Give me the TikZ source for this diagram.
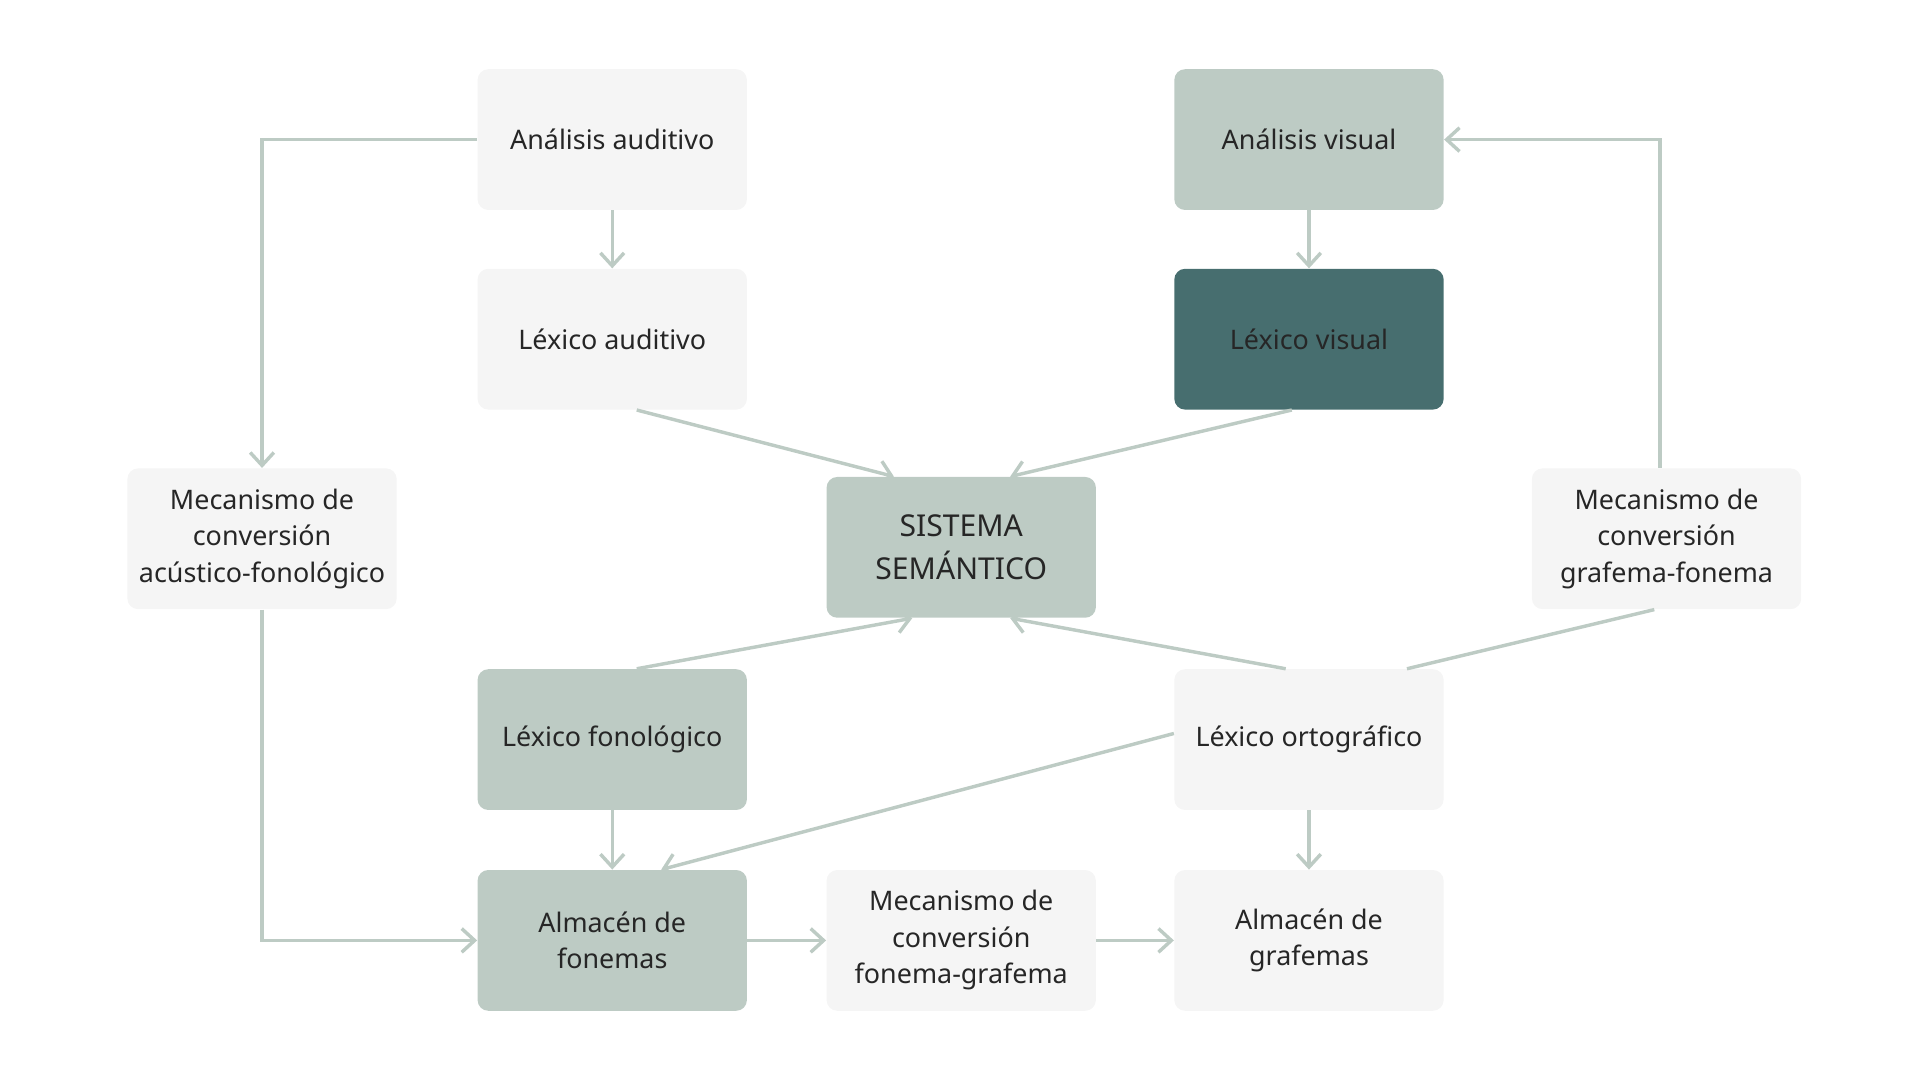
\documentclass[tikz,border=0pt]{standalone}
\usepackage{fontspec}
\setmainfont{Noto Sans}
\usetikzlibrary{arrows.meta, positioning}
\definecolor{sage}{HTML}{BDCBC4}
\definecolor{pale}{HTML}{F5F5F5}
\definecolor{teal}{HTML}{476E6F}
\definecolor{ink}{HTML}{262626}
\begin{document}
\begin{tikzpicture}[x=0.02cm, y=-0.02cm,
    box/.style={rectangle, rounded corners=5pt, minimum width=4.4cm, minimum height=2.3cm,
      align=center, text=ink, font=\fontsize{12.5}{17}\selectfont, inner sep=2pt},
    light/.style={box, fill=pale},
    mid/.style={box, fill=sage},
    dark/.style={box, fill=teal},
    link/.style={draw=sage, line width=1.6pt, -{Straight Barb[length=6pt,width=11pt]}}]
    \useasboundingbox (0,0) rectangle (1568,882);

    \node[light] (aa) at (500,114) {Análisis auditivo};
    \node[light] (la) at (500,277) {Léxico auditivo};
    \node[mid]   (av) at (1069,114) {Análisis visual};
    \node[dark]  (lv) at (1069,277) {Léxico visual};
    \node[light] (mac) at (214,440) {Mecanismo de\\conversión\\acústico-fonológico};
    \node[mid, font=\fontsize{14}{20}\selectfont] (ss) at (785,447) {SISTEMA\\SEMÁNTICO};
    \node[light] (mgf) at (1361,440) {Mecanismo de\\conversión\\grafema-fonema};
    \node[mid]   (lf) at (500,604) {Léxico fonológico};
    \node[light] (lo) at (1069,604) {Léxico ortográfico};
    \node[mid]   (af) at (500,768) {Almacén de\\fonemas};
    \node[light] (mfg) at (785,768) {Mecanismo de\\conversión\\fonema-grafema};
    \node[light] (ag) at (1069,768) {Almacén de\\grafemas};

    % upper routes
    \draw[link] (aa.west) -| (mac.north);
    \draw[link] (aa) -- (la);
    \draw[link] (av) -- (lv);
    \draw[link] (la.south) ++(20,0) -- ([xshift=-1.1cm]ss.north);
    \draw[link] (lv.south) ++(-14,0) -- ([xshift=0.8cm]ss.north);
    \draw[link, {Straight Barb[length=6pt,width=11pt]}-] (av.east) -| ([xshift=-3pt]mgf.north);

    % lower routes
    \draw[link] (lf.north) ++(20,0) -- ([xshift=-0.8cm]ss.south);
    \draw[link] (lo.north) ++(-19,0) -- ([xshift=0.8cm]ss.south);
    \draw[draw=sage, line width=1.6pt] ([xshift=-0.2cm]mgf.south) -- ([xshift=1.6cm]lo.north);
    \draw[link] ([yshift=0.1cm]lo.west) -- ([xshift=0.8cm]af.north);
    \draw[link] (lf) -- (af);
    \draw[link] (lo) -- (ag);
    \draw[link] (mac.south) |- (af.west);
    \draw[link] (af) -- (mfg);
    \draw[link] (mfg) -- (ag);
\end{tikzpicture}
\end{document}
